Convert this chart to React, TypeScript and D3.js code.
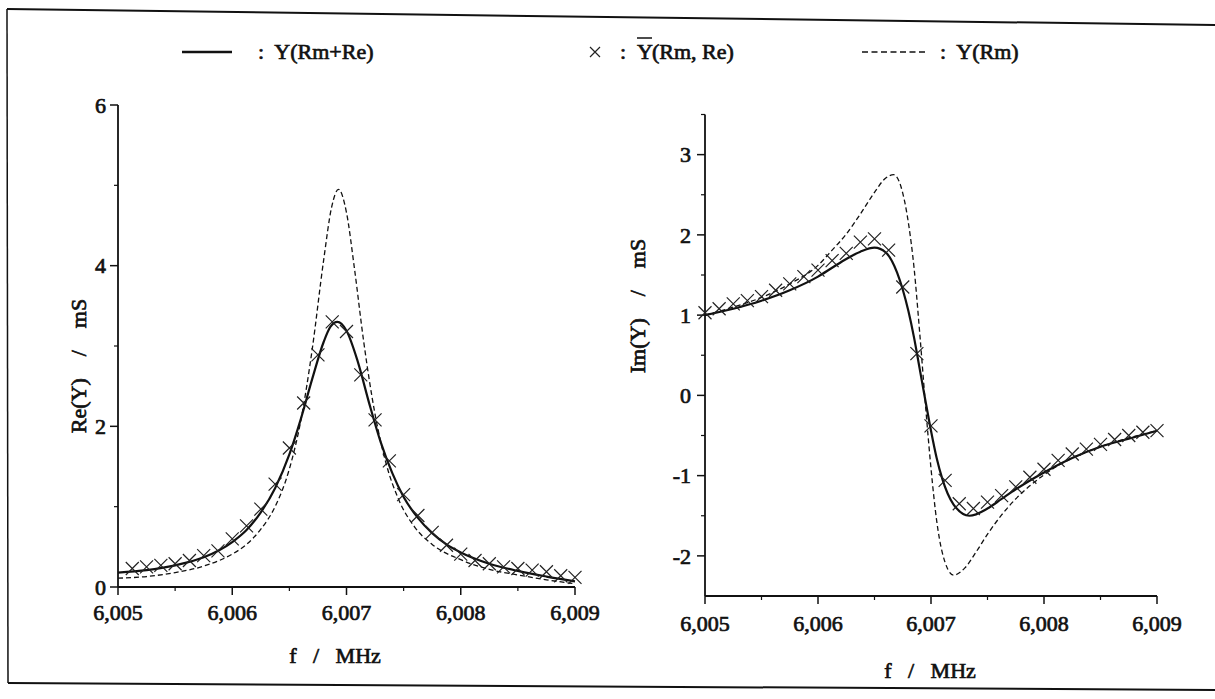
import React from "react";
import * as d3 from "d3";

// ---------- axis ticks ----------
const xTicks = [6.005, 6.006, 6.007, 6.008, 6.009];
const xMinorTicks = [6.0055, 6.0065, 6.0075, 6.0085];
const reTicks = [0, 2, 4, 6];
const reMinorTicks = [1, 3, 5];
const imTicks = [-2, -1, 0, 1, 2, 3];
const imMinorTicks = [-1.5, -0.5, 0.5, 1.5, 2.5, 3.5];

// ---------- Re(Y) panel ----------
const fReLine = [6.005, 6.00525, 6.0055, 6.00575, 6.006, 6.006125, 6.00625, 6.006375, 6.0065, 6.0066, 6.0067, 6.0068, 6.00686, 6.00692, 6.007, 6.0071, 6.0072, 6.0073, 6.0074, 6.0075, 6.007625, 6.00775, 6.007875, 6.008, 6.00825, 6.0085, 6.00875, 6.009];
const reSolid = [0.18, 0.21, 0.27, 0.37, 0.56, 0.71, 0.93, 1.23, 1.65, 2.09, 2.59, 3.05, 3.24, 3.3, 3.19, 2.8, 2.28, 1.8, 1.42, 1.12, 0.86, 0.67, 0.53, 0.43, 0.29, 0.2, 0.13, 0.07];

const fReDash = [6.005, 6.00525, 6.0055, 6.00575, 6.006, 6.006125, 6.00625, 6.006375, 6.0065, 6.0066, 6.0067, 6.0068, 6.00687, 6.00693, 6.007, 6.00707, 6.00715, 6.00725, 6.00735, 6.00745, 6.0076, 6.00775, 6.008, 6.00825, 6.0085, 6.00875, 6.009];
const reDashed = [0.11, 0.13, 0.18, 0.26, 0.41, 0.53, 0.72, 1.0, 1.47, 2.07, 2.96, 4.07, 4.73, 4.95, 4.66, 3.96, 3.06, 2.15, 1.52, 1.11, 0.74, 0.53, 0.34, 0.22, 0.15, 0.09, 0.04];

const fReCross = [6.005125, 6.00525, 6.005375, 6.0055, 6.005625, 6.00575, 6.005875, 6.006, 6.006125, 6.00625, 6.006375, 6.0065, 6.006625, 6.00675, 6.006875, 6.007, 6.007125, 6.00725, 6.007375, 6.0075, 6.007625, 6.00775, 6.007875, 6.008, 6.008125, 6.00825, 6.008375, 6.0085, 6.008625, 6.00875, 6.008875, 6.009];
const reCross = [0.23, 0.25, 0.27, 0.29, 0.33, 0.39, 0.45, 0.6, 0.76, 0.97, 1.28, 1.73, 2.29, 2.89, 3.3, 3.18, 2.64, 2.08, 1.57, 1.15, 0.89, 0.68, 0.52, 0.41, 0.33, 0.29, 0.25, 0.23, 0.21, 0.19, 0.14, 0.12];

// ---------- Im(Y) panel ----------
const fImLine = [6.005, 6.00525, 6.0055, 6.00575, 6.006, 6.006125, 6.00625, 6.006375, 6.0065, 6.0066, 6.0067, 6.0068, 6.00685, 6.0069, 6.00695, 6.007, 6.00705, 6.0071, 6.0072, 6.00734, 6.0075, 6.007625, 6.00775, 6.008, 6.00825, 6.0085, 6.00875, 6.009];
const imSolid = [1.0, 1.08, 1.18, 1.31, 1.48, 1.59, 1.7, 1.79, 1.84, 1.78, 1.53, 1.05, 0.72, 0.33, -0.06, -0.44, -0.78, -1.04, -1.36, -1.5, -1.41, -1.29, -1.17, -0.96, -0.78, -0.64, -0.54, -0.44];

const fImDash = [6.005, 6.00525, 6.0055, 6.00575, 6.006, 6.006125, 6.00625, 6.006375, 6.0065, 6.0066, 6.00667, 6.00675, 6.0068, 6.00685, 6.0069, 6.00695, 6.007, 6.00705, 6.0071, 6.0072, 6.0073, 6.0074, 6.0075, 6.007625, 6.00775, 6.008, 6.00825, 6.0085, 6.00875, 6.009];
const imDashed = [1.0, 1.1, 1.22, 1.39, 1.62, 1.81, 2.01, 2.26, 2.53, 2.71, 2.75, 2.52, 2.15, 1.59, 0.78, -0.1, -0.91, -1.56, -1.96, -2.24, -2.15, -1.95, -1.73, -1.49, -1.29, -0.99, -0.78, -0.64, -0.53, -0.44];

const fImCross = [6.005, 6.005125, 6.00525, 6.005375, 6.0055, 6.005625, 6.00575, 6.005875, 6.006, 6.006125, 6.00625, 6.006375, 6.0065, 6.006625, 6.00675, 6.006875, 6.007, 6.007125, 6.00725, 6.007375, 6.0075, 6.007625, 6.00775, 6.007875, 6.008, 6.008125, 6.00825, 6.008375, 6.0085, 6.008625, 6.00875, 6.008875, 6.009];
const imCross = [1.03, 1.08, 1.14, 1.18, 1.23, 1.31, 1.39, 1.48, 1.56, 1.68, 1.77, 1.91, 1.95, 1.81, 1.35, 0.52, -0.38, -1.06, -1.35, -1.41, -1.33, -1.25, -1.14, -1.02, -0.92, -0.81, -0.73, -0.67, -0.61, -0.55, -0.5, -0.46, -0.44];

// ---------- legend ----------
const legendLabels = ["Y(Rm+Re)", "Y", "(Rm, Re)", "Y(Rm)"];

const FONT = "'Liberation Serif', 'Times New Roman', serif";
const fmtX = (d: number) => d.toFixed(3).replace(".", ",");
const TICK_FS = 22;
const TITLE_FS = 22;
// scanned print: regular glyphs thickened by a thin outline
const textStyle = { stroke: "#111", strokeWidth: 0.7, fill: "#111" } as const;

type PanelProps = {
  xRange: [number, number];
  yDomain: [number, number];
  yRange: [number, number];
  yTicks: number[];
  yMinor: number[];
  fLine: number[];
  solid: number[];
  fDash: number[];
  dashed: number[];
  fCross: number[];
  cross: number[];
  xLabelY: number;
  yLabelRight: number;
  yTitle: string;
  yTitleX: number;
  yTitleY: number;
  xTitleX: number;
  xTitleY: number;
};

function Panel(p: PanelProps) {
  const x = d3.scaleLinear().domain([6.005, 6.009]).range(p.xRange);
  const y = d3.scaleLinear().domain(p.yDomain).range(p.yRange);
  const line = d3
    .line<[number, number]>()
    .x((d) => x(d[0]))
    .y((d) => y(d[1]))
    .curve(d3.curveMonotoneX);
  const solidPts = p.fLine.map((f, i) => [f, p.solid[i]] as [number, number]);
  const dashPts = p.fDash.map((f, i) => [f, p.dashed[i]] as [number, number]);
  const x0 = p.xRange[0];
  const yBottom = p.yRange[0];
  const yTop = p.yRange[1];
  const cs = 6.5;
  return (
    <g>
      <line x1={x0} x2={x0} y1={yBottom} y2={yTop} stroke="#111" strokeWidth={1.8} />
      <line x1={x0} x2={p.xRange[1]} y1={yBottom} y2={yBottom} stroke="#111" strokeWidth={1.8} />
      {p.yTicks.map((t) => (
        <g key={"yt" + t}>
          <line x1={x0 - 8} x2={x0} y1={y(t)} y2={y(t)} stroke="#111" strokeWidth={1.5} />
          <text
            x={p.yLabelRight}
            y={y(t)}
            dy="0.35em"
            textAnchor="end"
            fontFamily={FONT}
            fontSize={TICK_FS}
            {...textStyle}
          >
            {t}
          </text>
        </g>
      ))}
      {p.yMinor.map((t) => (
        <line key={"ym" + t} x1={x0 - 4} x2={x0} y1={y(t)} y2={y(t)} stroke="#111" strokeWidth={1.2} />
      ))}
      {xTicks.map((t) => (
        <g key={"xt" + t}>
          <line x1={x(t)} x2={x(t)} y1={yBottom} y2={yBottom + 8} stroke="#111" strokeWidth={1.5} />
          <text
            x={x(t)}
            y={p.xLabelY}
            textAnchor="middle"
            fontFamily={FONT}
            fontSize={TICK_FS}
            {...textStyle}
          >
            {fmtX(t)}
          </text>
        </g>
      ))}
      {xMinorTicks.map((t) => (
        <line key={"xm" + t} x1={x(t)} x2={x(t)} y1={yBottom} y2={yBottom + 4} stroke="#111" strokeWidth={1.2} />
      ))}
      <text
        x={p.xTitleX}
        y={p.xTitleY}
        textAnchor="middle"
        fontFamily={FONT}
        fontSize={TITLE_FS}
        {...textStyle}
        style={{ whiteSpace: "pre" }}
      >
        {"f   /   MHz"}
      </text>
      <text
        transform={`translate(${p.yTitleX},${p.yTitleY}) rotate(-90)`}
        textAnchor="middle"
        fontFamily={FONT}
        fontSize={TITLE_FS}
        {...textStyle}
        style={{ whiteSpace: "pre" }}
      >
        {p.yTitle}
      </text>
      <path d={line(dashPts) || ""} fill="none" stroke="#111" strokeWidth={1.3} strokeDasharray="5,3" />
      <path d={line(solidPts) || ""} fill="none" stroke="#111" strokeWidth={2.2} />
      {p.fCross.map((f, i) => {
        const cx = x(f);
        const cy = y(p.cross[i]);
        return (
          <path
            key={"c" + i}
            d={`M${cx - cs},${cy - cs}L${cx + cs},${cy + cs}M${cx - cs},${cy + cs}L${cx + cs},${cy - cs}`}
            stroke="#222"
            strokeWidth={1.2}
            fill="none"
          />
        );
      })}
    </g>
  );
}

export default function App() {
  return (
    <svg
      width={1215}
      height={699}
      style={{ position: "absolute", left: 0, top: 0, background: "#fff" }}
    >
      <rect x={0} y={0} width={1215} height={699} fill="#fff" />
      <path d="M7,9 L1215,25" stroke="#111" strokeWidth={2} fill="none" />
      <path d="M7,9 L8,683" stroke="#111" strokeWidth={1.5} fill="none" />
      <path d="M8,683 L1215,690" stroke="#111" strokeWidth={2} fill="none" />

      <g fontFamily={FONT} fontSize={22} {...textStyle}>
        <line x1={182} x2={232} y1={52} y2={52} stroke="#111" strokeWidth={2.4} />
        <text x={258} y={59} style={{ whiteSpace: "pre" }}>{":  " + legendLabels[0]}</text>
        <path d="M590,47L600,57M590,57L600,47" stroke="#222" strokeWidth={1.2} fill="none" />
        <text x={620} y={59}>{":"}</text>
        <text x={637} y={59}>{legendLabels[1]}</text>
        <line x1={637} x2={652} y1={38} y2={38} stroke="#111" strokeWidth={1.5} />
        <text x={652} y={59}>{legendLabels[2]}</text>
        <line x1={862} x2={928} y1={52} y2={52} stroke="#111" strokeWidth={1.3} strokeDasharray="6,3.5" />
        <text x={940} y={59} style={{ whiteSpace: "pre" }}>{":  " + legendLabels[3]}</text>
      </g>

      <Panel
        xRange={[118, 575]}
        yDomain={[0, 6]}
        yRange={[587, 105]}
        yTicks={reTicks}
        yMinor={reMinorTicks}
        fLine={fReLine}
        solid={reSolid}
        fDash={fReDash}
        dashed={reDashed}
        fCross={fReCross}
        cross={reCross}
        xLabelY={620}
        yLabelRight={106}
        yTitle={"Re(Y)    /    mS"}
        yTitleX={86}
        yTitleY={366}
        xTitleX={335}
        xTitleY={663}
      />
      <Panel
        xRange={[705, 1157]}
        yDomain={[-2.5, 3.5]}
        yRange={[596, 114.5]}
        yTicks={imTicks}
        yMinor={imMinorTicks}
        fLine={fImLine}
        solid={imSolid}
        fDash={fImDash}
        dashed={imDashed}
        fCross={fImCross}
        cross={imCross}
        xLabelY={631}
        yLabelRight={691}
        yTitle={"Im(Y)    /    mS"}
        yTitleX={645}
        yTitleY={306}
        xTitleX={930}
        xTitleY={678}
      />
    </svg>
  );
}
